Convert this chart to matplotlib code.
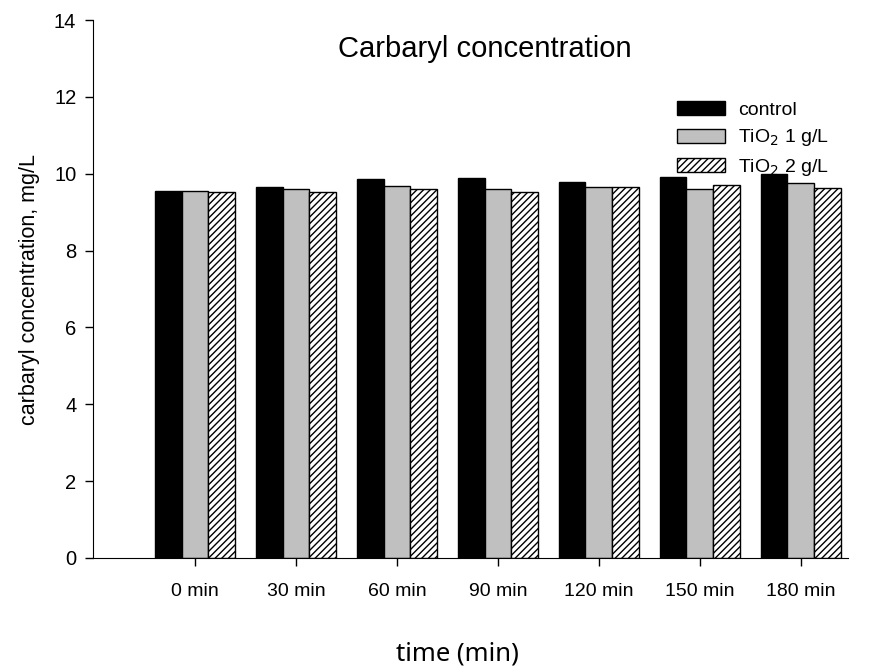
import matplotlib.pyplot as plt
import numpy as np

plt.rcParams['font.family'] = ['Liberation Sans', 'DejaVu Sans']
plt.rcParams['hatch.linewidth'] = 1.0

times = ['0 min', '30 min', '60 min', '90 min', '120 min', '150 min', '180 min']
control = [9.56, 9.66, 9.87, 9.90, 9.78, 9.91, 9.99]
tio2_1 = [9.55, 9.61, 9.69, 9.61, 9.65, 9.61, 9.77]
tio2_2 = [9.52, 9.52, 9.61, 9.53, 9.66, 9.71, 9.63]

x = np.arange(len(times))
w = 0.265

fig = plt.figure(figsize=(8.88, 6.69), dpi=100)
ax = fig.add_axes([0.1047, 0.166, 0.850, 0.804])

ax.bar(x - w, control, w, color='black', edgecolor='black', linewidth=1, label='control')
ax.bar(x, tio2_1, w, color='#c0c0c0', edgecolor='black', linewidth=1, label='TiO$_2$ 1 g/L')
ax.bar(x + w, tio2_2, w, color='white', edgecolor='black', linewidth=1, hatch='/////',
       label='TiO$_2$ 2 g/L')

ax.set_xlim(-1.01, 6.465)
ax.set_ylim(0, 14)
ax.set_yticks(range(0, 15, 2))
ax.set_xticks(x)
ax.set_xticklabels(times, fontsize=14)
ax.tick_params(axis='y', labelsize=14.5, length=6, width=1, pad=6)
ax.tick_params(axis='x', length=6, width=1, pad=12)
ax.spines['top'].set_visible(False)
ax.spines['right'].set_visible(False)

ax.set_ylabel('carbaryl concentration, mg/L', fontsize=15.5, labelpad=10)
ax.text(0.519, 0.931, 'Carbaryl concentration', transform=ax.transAxes,
        ha='center', va='baseline', fontsize=21)
fig.text(0.515, 0.003, 'time (min)', ha='center', va='bottom', fontsize=18.5,
         family=['Noto Sans', 'DejaVu Sans'])

ax.legend(loc='upper left', bbox_to_anchor=(0.7735, 0.849), frameon=False, fontsize=14,
          handlelength=2.47, handleheight=0.72, labelspacing=0.43, handletextpad=0.67,
          borderaxespad=0, borderpad=0)

fig.savefig('out.png', dpi=100)
